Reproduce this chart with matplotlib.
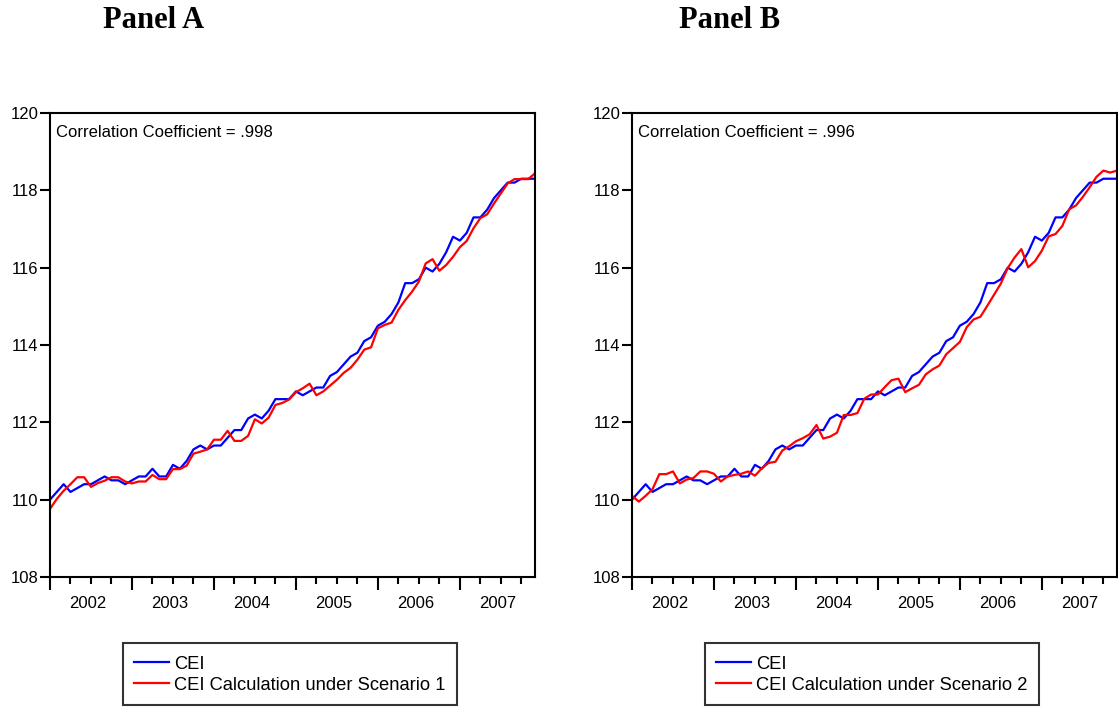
import numpy as np
import matplotlib
matplotlib.use("Agg")
import matplotlib.pyplot as plt
import matplotlib.transforms as mtransforms

# Donnees mensuelles 2002-2007
years = [2002, 2003, 2004, 2005, 2006, 2007]

cei = [110.0, 110.2, 110.4, 110.2, 110.3, 110.4, 110.4, 110.5, 110.6, 110.5, 110.5, 110.4,
       110.5, 110.6, 110.6, 110.8, 110.6, 110.6, 110.9, 110.8, 111.0, 111.3, 111.4, 111.3,
       111.4, 111.4, 111.6, 111.8, 111.8, 112.1, 112.2, 112.1, 112.3, 112.6, 112.6, 112.6,
       112.8, 112.7, 112.8, 112.9, 112.9, 113.2, 113.3, 113.5, 113.7, 113.8, 114.1, 114.2,
       114.5, 114.6, 114.8, 115.1, 115.6, 115.6, 115.7, 116.0, 115.9, 116.1, 116.4, 116.8,
       116.7, 116.9, 117.3, 117.3, 117.5, 117.8, 118.0, 118.2, 118.2, 118.3, 118.3, 118.3]

scenario1 = [109.76, 110.02, 110.23, 110.40, 110.58, 110.58, 110.33, 110.43, 110.49, 110.58, 110.58, 110.47,
             110.42, 110.47, 110.47, 110.64, 110.53, 110.53, 110.79, 110.79, 110.88, 111.19, 111.24, 111.30,
             111.55, 111.55, 111.78, 111.52, 111.52, 111.65, 112.08, 111.97, 112.12, 112.45, 112.50, 112.59,
             112.78, 112.88, 113.00, 112.70, 112.80, 112.95, 113.10, 113.28, 113.41, 113.62, 113.88, 113.94,
             114.43, 114.52, 114.58, 114.91, 115.16, 115.38, 115.64, 116.11, 116.22, 115.92, 116.07, 116.28,
             116.53, 116.69, 117.02, 117.28, 117.38, 117.66, 117.92, 118.18, 118.29, 118.29, 118.29, 118.44]

scenario2 = [110.10, 109.95, 110.10, 110.27, 110.66, 110.66, 110.73, 110.42, 110.52, 110.56, 110.73, 110.73,
             110.67, 110.47, 110.60, 110.64, 110.67, 110.73, 110.62, 110.81, 110.95, 110.98, 111.27, 111.38,
             111.51, 111.59, 111.69, 111.93, 111.58, 111.63, 111.73, 112.19, 112.19, 112.24, 112.61, 112.72,
             112.72, 112.91, 113.09, 113.13, 112.78, 112.88, 112.97, 113.24, 113.37, 113.47, 113.76, 113.92,
             114.08, 114.46, 114.66, 114.73, 115.01, 115.30, 115.59, 115.99, 116.26, 116.48, 116.01, 116.17,
             116.44, 116.81, 116.87, 117.08, 117.51, 117.61, 117.83, 118.08, 118.35, 118.51, 118.46, 118.51]

correlations = [".998", ".996"]
panel_titles = ["Panel A", "Panel B"]
calc_labels = ["CEI Calculation under Scenario 1", "CEI Calculation under Scenario 2"]
y_ticks = [108, 110, 112, 114, 116, 118, 120]

plt.rcParams['font.family'] = ['Liberation Sans', 'DejaVu Sans']
tick_size, corr_size, leg_size = 12, 12, 13.2

W, H = 1118, 710
fig = plt.figure(figsize=(W / 100, H / 100), dpi=100)


def draw_panel(left_px, calc, corr, label, title, title_x):
    ax = fig.add_axes([left_px / W, 1 - 577 / H, 485 / W, 464 / H])
    x = np.arange(len(cei))
    ax.plot(x, cei, color='#0000ff', lw=1.6, label='CEI')
    ax.plot(x, calc, color='#ff0000', lw=1.6, label=label)

    ax.set_xlim(0, len(cei) - 1)
    ax.set_ylim(108, 120)
    ax.set_yticks(y_ticks)
    ax.tick_params(axis='y', direction='out', length=7, width=1.5, pad=1.5, labelsize=tick_size)

    # Graduations: annees (longues) et trimestres (courtes)
    ax.set_xticks(np.arange(0, len(cei), 12))
    ax.set_xticks([m for m in range(3, len(cei), 3) if m % 12 != 0], minor=True)
    ax.tick_params(axis='x', which='major', direction='out', length=9, width=1.5, labelbottom=False)
    ax.tick_params(axis='x', which='minor', direction='out', length=5, width=1.5)
    for s in ax.spines.values():
        s.set_linewidth(1.5)

    # Etiquettes des annees au milieu de chaque annee
    trans = mtransforms.blended_transform_factory(ax.transData, ax.transAxes)
    for k, yr in enumerate(years):
        ax.text(12 * k + 5.5, -0.058, str(yr), transform=trans, ha='center', va='center',
                fontsize=tick_size)

    ax.text(0.012, 0.958, "Correlation Coefficient = " + corr, transform=ax.transAxes,
            ha='left', va='center', fontsize=corr_size)

    leg = ax.legend(loc='upper left', bbox_to_anchor=(73 / 485, -66 / 464), borderaxespad=0,
                    fancybox=False, edgecolor='black', fontsize=leg_size,
                    handlelength=35 / (leg_size * 1.389), handletextpad=0.3,
                    labelspacing=0.12, borderpad=0.6, handleheight=1.1)
    leg.get_frame().set_linewidth(1.5)

    fig.text(title_x / W, 1 - 28 / H, title, family='Liberation Serif', fontweight='bold',
             fontsize=22, ha='center', va='baseline')
    return ax


draw_panel(50, scenario1, correlations[0], calc_labels[0], panel_titles[0], 154)
draw_panel(632, scenario2, correlations[1], calc_labels[1], panel_titles[1], 730)

fig.savefig("out.png", dpi=100)
